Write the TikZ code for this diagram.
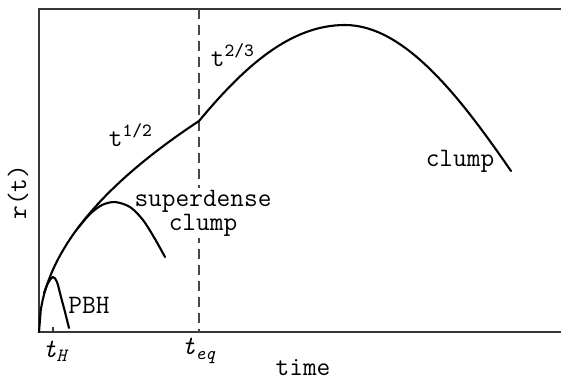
\documentclass[tikz,border=0pt]{standalone}
\usepackage{tikz}
\usetikzlibrary{positioning}
\definecolor{axgray}{RGB}{55,55,55}
\definecolor{eqgray}{RGB}{70,70,70}

\begin{document}
\begin{tikzpicture}[
  x=0.5pt,y=-0.5pt,
  font=\ttfamily\fontsize{13.3}{10.8}\selectfont,
  frm/.style={draw=axgray,line width=0.6pt},
  crv/.style={draw=black,line width=1.05pt,line join=round,line cap=round},
  eqln/.style={draw=eqgray,line width=0.75pt,dash pattern=on 5pt off 3pt},
  lbl/.style={inner sep=1pt,align=center}
]
  \useasboundingbox (0,0) rectangle (561,381);
  \coordinate (o) at (39,332);
  \coordinate (tl) at (39,9);
  \coordinate (tr) at (561,9);
  \coordinate (br) at (561,332);
  \coordinate (hb) at (53,332);
  \coordinate (ht) at (53,327);
  \coordinate (eqb) at (199,332);
  \coordinate (eqt) at (199,9);
  \coordinate (kink) at (199,121);
  \coordinate (top) at (345,25);
  \coordinate (end) at (511,171);
  % axes box, open on the right
  \draw[frm] (tr) -- (tl) -- (o) -- (br);
  \draw[frm] (hb) -- (ht);
  \draw[eqln] (eqt) -- (eqb);
  \node[lbl,fill=white] (sdc) at (203,213) {superdense\\clump};
  % growth before and after t_eq
  \draw[crv] plot[domain=0:160,samples=90] ({39+\x},{332-211*sqrt(\x/160)});
  \draw[crv] (kink) .. controls (244,67) and (290,25) .. (top)
    .. controls (405,25) and (461,98.5) .. (end);
  % early collapses
  \draw[crv] plot[smooth] coordinates {(78,228) (90,214) (102,205) (115,202)
    (130,207) (143,220) (155,239) (165,257)};
  \draw[crv] plot[smooth] coordinates {(44,293) (48,283) (53,277) (57,282)
    (61,297) (65,312) (69,328)};
  % labels
  \node[lbl] (p23) at (233,55) {t\textsuperscript{2/3}};
  \node[lbl] (p12) at (131,135) {t\textsuperscript{1/2}};
  \node[lbl] (pbh) at (89,305) {PBH};
  \node[lbl] (clp) at (460,161) {clump};
  \node[lbl] (th) at (55,351) {\itshape t\textsubscript{H}};
  \node[lbl] (teq) at (199,351) {\itshape t\textsubscript{eq}};
  \node[lbl] (tm) at (303,368) {time};
  \node[lbl,rotate=90] (rt) at (18,192) {r(t)};
\end{tikzpicture}
\end{document}
